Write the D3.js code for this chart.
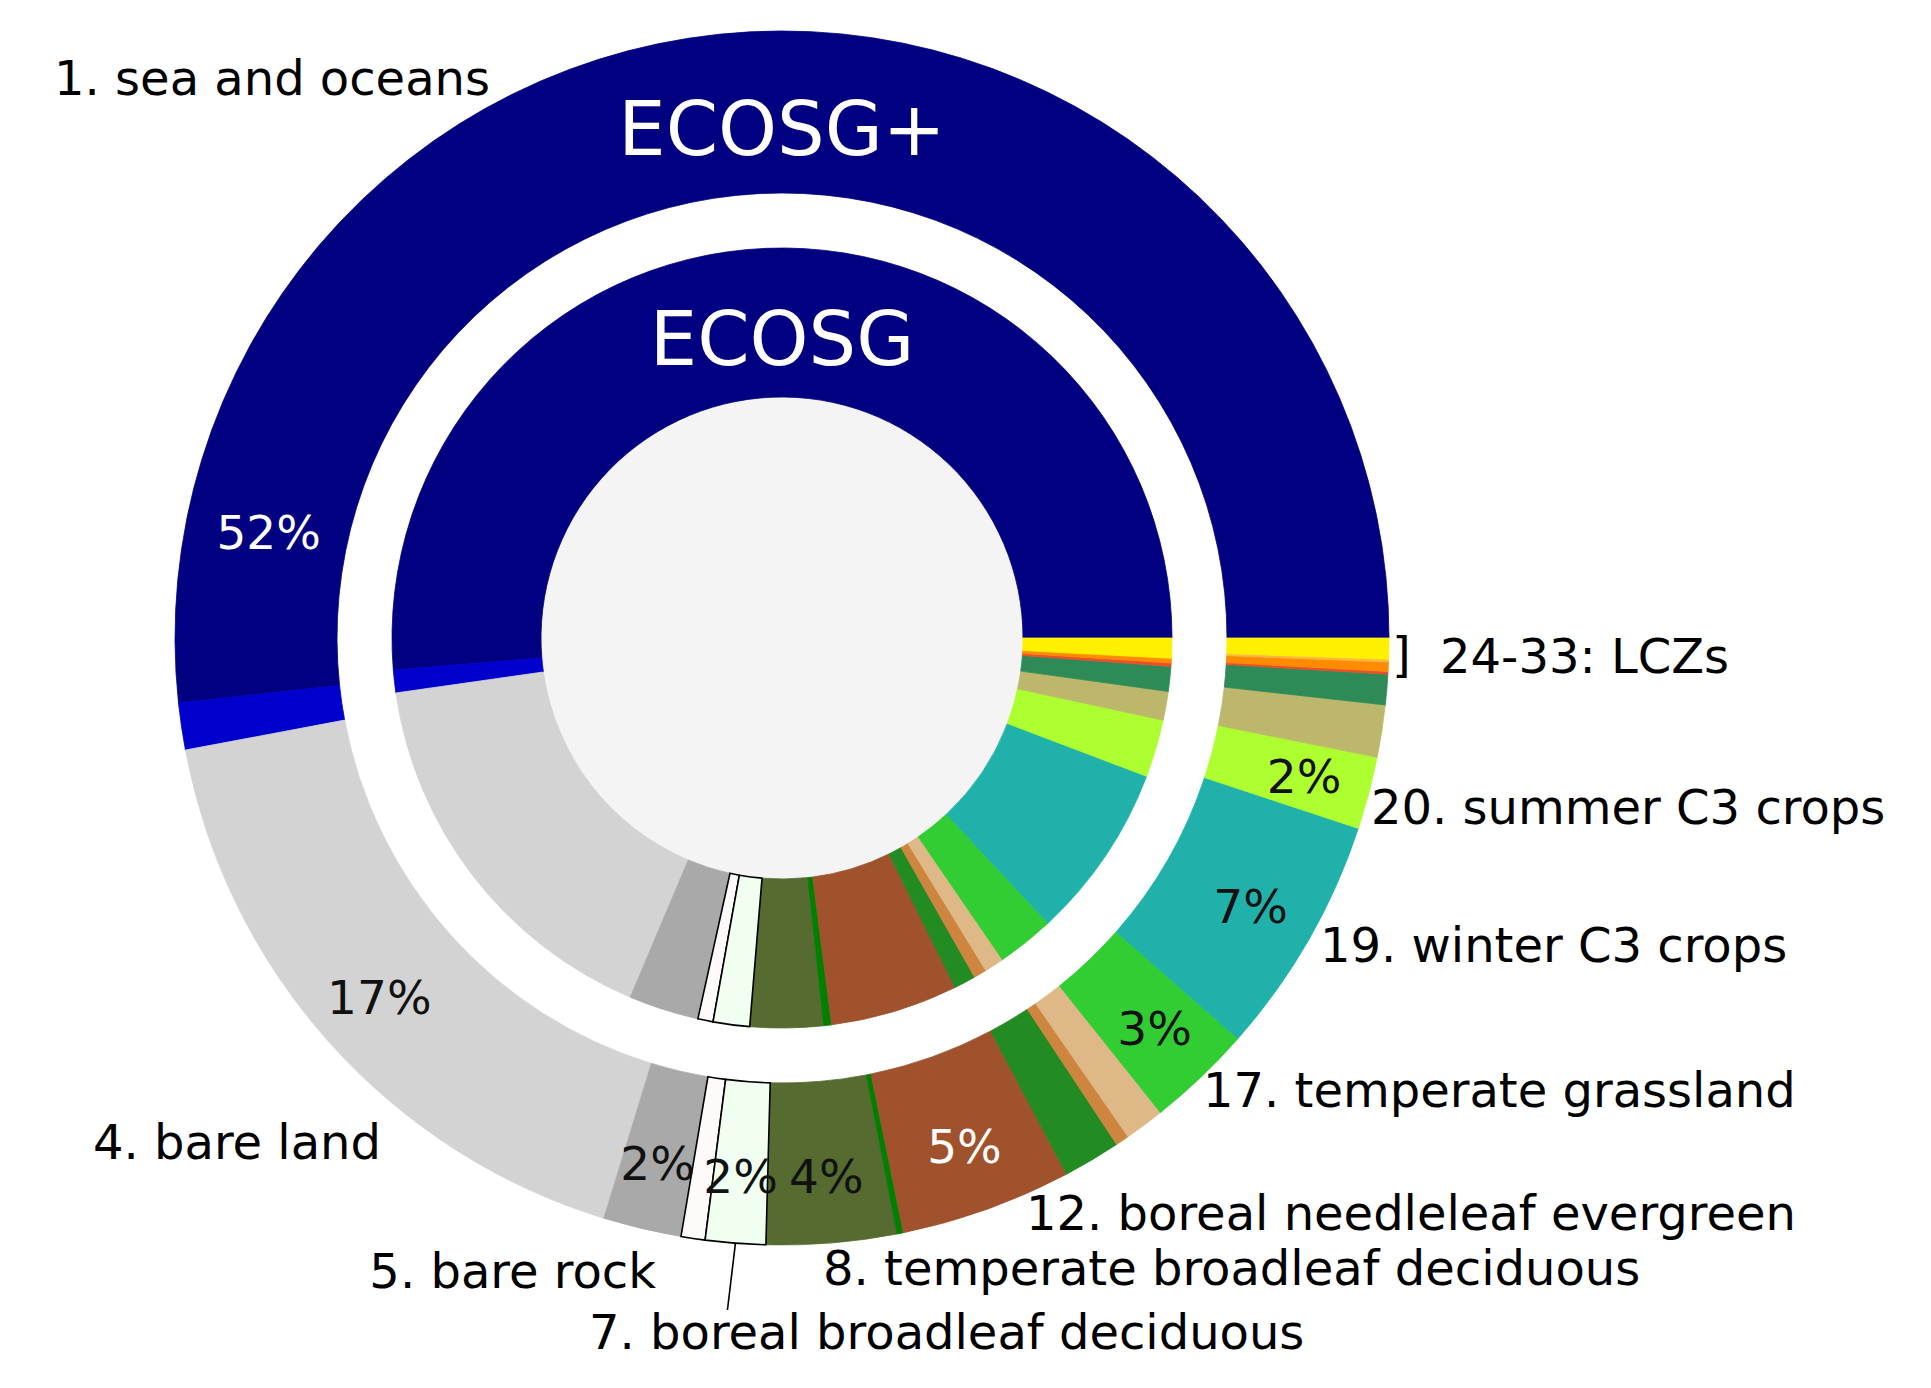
<!DOCTYPE html>
<html>
<head>
<meta charset="utf-8">
<script src="https://cdn.jsdelivr.net/npm/d3@7"></script>
<style>
  html, body { margin: 0; padding: 0; background: #ffffff; }
  svg { display: block; }
  text { font-family: "DejaVu Sans", sans-serif; }
</style>
</head>
<body>
<div id="chart"></div>
<script>
// ---------------- DATA ----------------
const categories = [
  "1. sea and oceans", "2. lakes", "4. bare land", "5. bare rock", "6. permanent snow",
  "7. boreal broadleaf deciduous", "8. temperate broadleaf deciduous", "9. tropical broadleaf deciduous",
  "10. temperate broadleaf evergreen", "12. boreal needleleaf evergreen", "13. temperate needleleaf evergreen",
  "14. boreal needleleaf deciduous", "17. temperate grassland", "19. winter C3 crops",
  "20. summer C3 crops", "21. C4 crops", "22. flooded trees",
  "LCZ compact", "LCZ open", "LCZ light", "LCZ sparse"
];
const colors = [
  "#000080", "#0000cd", "#d3d3d3", "#a9a9a9", "#fffafa",
  "#f0fff0", "#556b2f", "#008000",
  "#a0522d", "#228b22", "#cd853f",
  "#deb887", "#32cd32", "#20b2aa",
  "#adff2f", "#bdb76b", "#2e8b57",
  "#e8502a", "#ff8c00", "#ffb640", "#fff000"
];
// area shares (%) per class, outer ring = ECOSG+, inner ring = ECOSG
const ecosgPlus = [51.72, 1.25, 17.31, 2.08, 0.64, 1.60, 3.46, 0.17, 4.56, 1.53, 0.36, 1.06, 2.81, 6.40, 1.93, 1.39, 0.81, 0.07, 0.25, 0.07, 0.56];
const ecosg     = [51.31, 0.94, 16.39, 2.90, 0.63, 1.51, 3.03, 0.32, 5.29, 0.90, 0.53, 0.81, 2.39, 7.28, 2.39, 1.19, 1.03, 0.14, 0.19, 0.00, 0.83];
// percentage labels shown on the outer ring
const pctLabels = ["52%", "", "17%", "2%", "", "2%", "4%", "", "5%", "", "", "", "3%", "7%", "2%", "", "", "", "", "", ""];
// class labels shown around the chart
const labelTexts = [
  "1. sea and oceans", "]", "24-33: LCZs", "20. summer C3 crops", "19. winter C3 crops",
  "17. temperate grassland", "12. boreal needleleaf evergreen", "8. temperate broadleaf deciduous",
  "7. boreal broadleaf deciduous", "5. bare rock", "4. bare land"
];
const ringTitles = ["ECOSG+", "ECOSG"];

// ---------------- LAYOUT ----------------
const W = 1931, H = 1388;
const cx = 782, cy = 638;
const R = 607;
const rings = { outer: [445, 607], inner: [241, 390] };
const labelLayout = [
  { x: 490, y: 78, anchor: "end" },
  { x: 1392, y: 655, anchor: "start" },
  { x: 1440, y: 656, anchor: "start" },
  { x: 1371, y: 807, anchor: "start" },
  { x: 1320, y: 945, anchor: "start" },
  { x: 1203, y: 1090, anchor: "start" },
  { x: 1026, y: 1213, anchor: "start" },
  { x: 823, y: 1268, anchor: "start" },
  { x: 589, y: 1332, anchor: "start" },
  { x: 656, y: 1271, anchor: "end" },
  { x: 381, y: 1142, anchor: "end" }
];
const edged = new Set([4, 5]);
const pctColors = i => (i === 0 || i === 8) ? "#ffffff" : "#111111";

const svg = d3.select("#chart").append("svg")
  .attr("width", W).attr("height", H)
  .style("background", "#ffffff");
const g = svg.append("g").attr("transform", `translate(${cx},${cy})`);

const pie = d3.pie().sort(null).value(d => d)
  .startAngle(Math.PI / 2).endAngle(Math.PI / 2 - 2 * Math.PI);

g.append("circle").attr("r", rings.inner[0]).attr("fill", "#f4f4f4");

function drawRing(values, radii) {
  const arcs = pie(values);
  const arc = d3.arc().innerRadius(radii[0]).outerRadius(radii[1]);
  const grp = g.append("g");
  grp.selectAll("path.w").data(arcs.filter(a => a.value > 0 && !edged.has(a.index))).join("path")
    .attr("class", "w")
    .attr("d", arc)
    .attr("fill", a => colors[a.index])
    .attr("stroke", a => colors[a.index])
    .attr("stroke-width", 0.8);
  grp.selectAll("path.e").data(arcs.filter(a => a.value > 0 && edged.has(a.index))).join("path")
    .attr("class", "e")
    .attr("d", arc)
    .attr("fill", a => colors[a.index])
    .attr("stroke", "#000000")
    .attr("stroke-width", 1.6);
  return arcs;
}

const outerArcs = drawRing(ecosgPlus, rings.outer);
drawRing(ecosg, rings.inner);

// percentage labels
const pctR = 540;
outerArcs.forEach(a => {
  const txt = pctLabels[a.index];
  if (!txt) return;
  let ang = (a.startAngle + a.endAngle) / 2;
  let r = pctR;
  if (a.index === 0) { ang = Math.PI / 2 - 168.4 * Math.PI / 180; r = 524; }
  g.append("text")
    .attr("x", r * Math.sin(ang))
    .attr("y", -r * Math.cos(ang))
    .attr("text-anchor", "middle")
    .attr("dominant-baseline", "central")
    .attr("font-size", 47)
    .attr("fill", pctColors(a.index))
    .text(txt);
});

// ring titles
g.append("text").attr("x", 0).attr("y", 129 - cy)
  .attr("text-anchor", "middle").attr("dominant-baseline", "central")
  .attr("font-size", 75).attr("fill", "#ffffff").text(ringTitles[0]);
g.append("text").attr("x", 0).attr("y", 339 - cy)
  .attr("text-anchor", "middle").attr("dominant-baseline", "central")
  .attr("font-size", 75).attr("fill", "#ffffff").text(ringTitles[1]);

// class labels
labelTexts.forEach((t, i) => {
  const L = labelLayout[i];
  svg.append("text")
    .attr("x", L.x).attr("y", L.y)
    .attr("text-anchor", L.anchor)
    .attr("dominant-baseline", "central")
    .attr("font-size", 48)
    .attr("fill", "#000000")
    .text(t);
});

// leader line for class 7 (from wedge edge to label)
const a7 = outerArcs[5];
const m7 = (a7.startAngle + a7.endAngle) / 2;
svg.append("line")
  .attr("x1", cx + R * Math.sin(m7)).attr("y1", cy - R * Math.cos(m7))
  .attr("x2", cx + R * Math.sin(m7) - 8).attr("y2", 1310)
  .attr("stroke", "#000000").attr("stroke-width", 1.6);
</script>
</body>
</html>
